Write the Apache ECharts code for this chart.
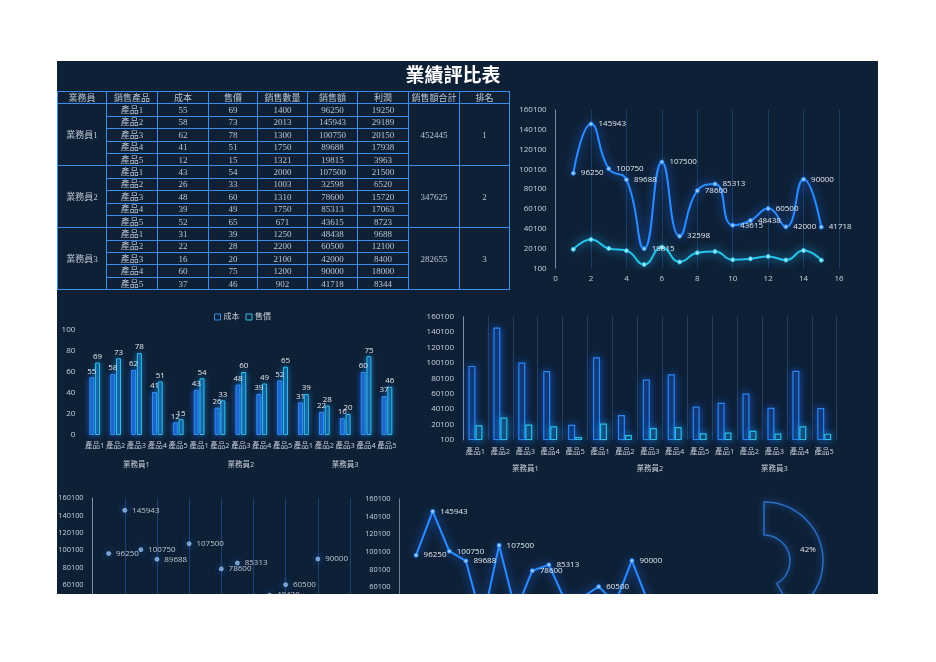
<!DOCTYPE html>
<html>
<head>
<meta charset="utf-8">
<script src="https://cdn.jsdelivr.net/npm/echarts@6/dist/echarts.min.js"></script>
<style>
  body { margin:0; background:#ffffff; width:936px; height:662px; overflow:hidden; }
  #panel { position:absolute; left:57px; top:61px; width:821px; height:533px; overflow:hidden; background:#0e2036; }
  #chart { position:absolute; left:-57px; top:-61px; width:936px; height:720px; }
  #tbl { position:absolute; left:0px; top:30px; width:452px; border-collapse:collapse; table-layout:fixed;
         font-family:"Liberation Serif","Noto Sans CJK TC",serif; font-size:9px; color:#bcc4cf; }
  #tbl td { border:1px solid #3a8ef0; padding:0; text-align:center; line-height:10px; height:11.4px; white-space:nowrap; overflow:hidden; }
</style>
</head>
<body>
<div id="panel">
  <div id="chart"></div>
  <table id="tbl"></table>
</div>
<script>
// ---------- data ----------
const headers = ['業務員','銷售產品','成本','售價','銷售數量','銷售額','利潤','銷售額合計','排名'];
const reps = ['業務員1','業務員2','業務員3'];
const products = ['產品1','產品2','產品3','產品4','產品5'];
const cost   = [55,58,62,41,12, 43,26,48,39,52, 31,22,16,60,37];
const price  = [69,73,78,51,15, 54,33,60,49,65, 39,28,20,75,46];
const qty    = [1400,2013,1300,1750,1321, 2000,1003,1310,1750,671, 1250,2200,2100,1200,902];
const sales  = [96250,145943,100750,89688,19815, 107500,32598,78600,85313,43615, 48438,60500,42000,90000,41718];
const profit = [19250,29189,20150,17938,3963, 21500,6520,15720,17063,8723, 9688,12100,8400,18000,8344];
const totals = [452445,347625,282655];
const ranks  = [1,2,3];
const title  = '業績評比表';
const legendNames = ['成本','售價'];

// ---------- table ----------
(function buildTable(){
  const widths = [49,51,51,49,50,50,51,51,50];
  const t = document.getElementById('tbl');
  let html = '<colgroup>' + widths.map(w => '<col style="width:' + w + 'px">').join('') + '</colgroup>';
  html += '<tr>' + headers.map(h => '<td>' + h + '</td>').join('') + '</tr>';
  reps.forEach((r, ri) => {
    products.forEach((p, pi) => {
      const i = ri * products.length + pi;
      html += '<tr>';
      if (pi === 0) html += '<td rowspan="5">' + r + '</td>';
      html += '<td>' + p + '</td><td>' + cost[i] + '</td><td>' + price[i] + '</td><td>' + qty[i] +
              '</td><td>' + sales[i] + '</td><td>' + profit[i] + '</td>';
      if (pi === 0) html += '<td rowspan="5">' + totals[ri] + '</td><td rowspan="5">' + ranks[ri] + '</td>';
      html += '</tr>';
    });
  });
  t.innerHTML = html;
})();

// ---------- chart ----------
const FONT = "'Open Sans','Noto Sans CJK TC',sans-serif";
const TXT = '#c9d0da';
const BLUE = '#2a8cff';
const CYAN = '#27c4ea';
const COST_BORDER = '#3a8cf0';
const PRICE_BORDER = '#33c0ee';
const productAxis = reps.flatMap(() => products);
const salesXY = sales.map((v, i) => [i + 1, v]);
const profitXY = profit.map((v, i) => [i + 1, v]);
const plain = v => String(v);

const lbl = (size) => ({ color: TXT, fontSize: size, fontFamily: FONT });
const hideAxis = { axisLine: { show: false }, axisTick: { show: false } };
const yLine = { show: true, lineStyle: { color: 'rgba(200,210,225,0.55)', width: 1 } };

const valueY = (grid, size) => ({
  type: 'value', gridIndex: grid, min: 100, max: 160100, interval: 20000,
  axisLine: yLine, axisTick: { show: false },
  splitLine: { show: false }, axisLabel: Object.assign(lbl(size), { margin: 9, formatter: plain })
});

const chart = echarts.init(document.getElementById('chart'), null, { renderer: 'canvas' });
chart.setOption({
  backgroundColor: 'transparent',
  animation: false,
  textStyle: { fontFamily: FONT },
  graphic: [{
    type: 'text', left: 453.5 - 48, top: 65,
    style: { text: title, fill: '#ffffff', font: "bold 19px 'Noto Sans CJK TC'" }
  }],
  legend: {
    show: true, left: 209, top: 308, itemWidth: 6, itemHeight: 6, itemGap: 6,
    icon: 'rect',
    data: [
      { name: legendNames[0], itemStyle: { color: 'rgba(0,0,0,0)', borderColor: COST_BORDER, borderWidth: 1 } },
      { name: legendNames[1], itemStyle: { color: 'rgba(0,0,0,0)', borderColor: PRICE_BORDER, borderWidth: 1 } }
    ],
    textStyle: Object.assign(lbl(8), { padding: [0, 0, 0, -2] })
  },
  grid: [
    { left: 555.6, top: 110, width: 283.4, height: 158.3 },
    { left: 84.3, top: 330, width: 313.1, height: 105 },
    { left: 463, top: 316.7, width: 373.7, height: 123.3 },
    { left: 92.6, top: 498, width: 257.4, height: 139.2 },
    { left: 399.5, top: 499, width: 265.6, height: 140.8 }
  ],
  xAxis: [
    { type: 'value', gridIndex: 0, min: 0, max: 16, interval: 2, ...hideAxis,
      splitLine: { show: true, lineStyle: { color: 'rgba(45,115,205,0.35)' } },
      axisLabel: Object.assign(lbl(8), { margin: 6 }) },
    { type: 'category', gridIndex: 1, data: productAxis, ...hideAxis,
      axisLabel: Object.assign(lbl(7.5), { interval: 0, margin: 7 }) },
    { type: 'category', gridIndex: 1, data: reps, position: 'bottom', offset: 19, ...hideAxis,
      axisLabel: Object.assign(lbl(7.5), { interval: 0, margin: 7 }) },
    { type: 'category', gridIndex: 2, data: productAxis, ...hideAxis,
      splitLine: { show: true, interval: 0, lineStyle: { color: 'rgba(90,120,160,0.35)' } },
      axisLabel: Object.assign(lbl(7.5), { interval: 0, margin: 8 }) },
    { type: 'category', gridIndex: 2, data: reps, position: 'bottom', offset: 17.5, ...hideAxis,
      axisLabel: Object.assign(lbl(7.5), { interval: 0, margin: 8 }) },
    { type: 'value', gridIndex: 3, min: 0, max: 16, interval: 2, ...hideAxis,
      splitLine: { show: true, lineStyle: { color: 'rgba(45,115,205,0.4)' } },
      axisLabel: Object.assign(lbl(8), { margin: 6 }) },
    { type: 'value', gridIndex: 4, min: 0, max: 16, interval: 2, ...hideAxis,
      splitLine: { show: false }, axisLabel: Object.assign(lbl(8), { margin: 6 }) }
  ],
  yAxis: [
    valueY(0, 8),
    { type: 'value', gridIndex: 1, min: 0, max: 100, interval: 20, ...hideAxis,
      splitLine: { show: false }, axisLabel: Object.assign(lbl(8), { margin: 9 }) },
    valueY(2, 8),
    valueY(3, 7.4),
    valueY(4, 7.4)
  ],
  series: [
    { name: '銷售額', type: 'line', xAxisIndex: 0, yAxisIndex: 0, data: salesXY, smooth: true,
      symbol: 'circle', symbolSize: 4,
      lineStyle: { color: BLUE, width: 2, shadowBlur: 10, shadowColor: '#1f6fff' },
      itemStyle: { color: '#9ccaff', borderColor: BLUE, borderWidth: 1 },
      label: { show: true, position: 'right', distance: 5, ...lbl(8), color: '#e2e7ee' } },
    { name: '利潤', type: 'line', xAxisIndex: 0, yAxisIndex: 0, data: profitXY, smooth: true,
      symbol: 'circle', symbolSize: 4,
      lineStyle: { color: CYAN, width: 2, shadowBlur: 10, shadowColor: '#1fb8ff' },
      itemStyle: { color: '#a8e8ff', borderColor: CYAN, borderWidth: 1 } },
    { name: legendNames[0], type: 'bar', xAxisIndex: 1, yAxisIndex: 1, data: cost, barWidth: 5, barGap: '15%',
      itemStyle: { color: 'rgba(30,105,215,0.75)', borderColor: COST_BORDER, borderWidth: 1,
                   shadowBlur: 6, shadowColor: 'rgba(30,120,255,0.8)' },
      label: { show: true, position: 'top', distance: 2, ...lbl(8), color: '#e2e7ee' } },
    { name: legendNames[1], type: 'bar', xAxisIndex: 1, yAxisIndex: 1, data: price, barWidth: 5,
      itemStyle: { color: 'rgba(25,120,200,0.45)', borderColor: PRICE_BORDER, borderWidth: 1,
                   shadowBlur: 6, shadowColor: 'rgba(30,170,255,0.8)' },
      label: { show: true, position: 'top', distance: 2, ...lbl(8), color: '#e2e7ee' } },
    { name: '銷售額', type: 'bar', xAxisIndex: 3, yAxisIndex: 2, data: sales, barWidth: 7, barGap: '0%',
      itemStyle: { color: 'rgba(15,45,90,0.6)', borderColor: '#2a86f0', borderWidth: 1.2,
                   shadowBlur: 8, shadowColor: 'rgba(30,110,255,0.9)' } },
    { name: '利潤', type: 'bar', xAxisIndex: 3, yAxisIndex: 2, data: profit, barWidth: 7,
      itemStyle: { color: 'rgba(15,60,95,0.6)', borderColor: '#2bbde8', borderWidth: 1.2,
                   shadowBlur: 8, shadowColor: 'rgba(30,170,255,0.9)' } },
    { name: '銷售額', type: 'scatter', xAxisIndex: 5, yAxisIndex: 3, data: salesXY, symbolSize: 4,
      itemStyle: { color: '#7dbcff', borderColor: '#e0efff', borderWidth: 0.6, shadowBlur: 8, shadowColor: '#2a7fff' },
      label: { show: true, position: 'right', distance: 5, ...lbl(8), color: '#e2e7ee' } },
    { name: '銷售額', type: 'line', xAxisIndex: 6, yAxisIndex: 4, data: salesXY, smooth: false,
      symbol: 'circle', symbolSize: 4,
      lineStyle: { color: BLUE, width: 2, shadowBlur: 10, shadowColor: '#1f6fff' },
      itemStyle: { color: '#9ccaff', borderColor: BLUE, borderWidth: 1 },
      label: { show: true, position: 'right', distance: 5, ...lbl(8), color: '#e2e7ee' } },
    { type: 'pie', center: [764, 561], radius: [26, 59], startAngle: 90, clockwise: true,
      silent: true, emphasis: { disabled: true }, labelLine: { show: false },
      data: reps.map((r, i) => (i === 0 ? {
        name: r, value: totals[i],
        itemStyle: { color: 'rgba(0,0,0,0)', borderColor: '#2a6fc4', borderWidth: 1.5,
                     shadowBlur: 6, shadowColor: 'rgba(40,120,230,0.8)' },
        label: { show: true, position: 'inside', formatter: p => Math.round(p.percent) + '%', ...lbl(8), color: '#e2e7ee' }
      } : {
        name: r, value: totals[i],
        itemStyle: { color: 'rgba(0,0,0,0)', borderWidth: 0 },
        label: { show: false }
      }))
    }
  ]
});
</script>
</body>
</html>
